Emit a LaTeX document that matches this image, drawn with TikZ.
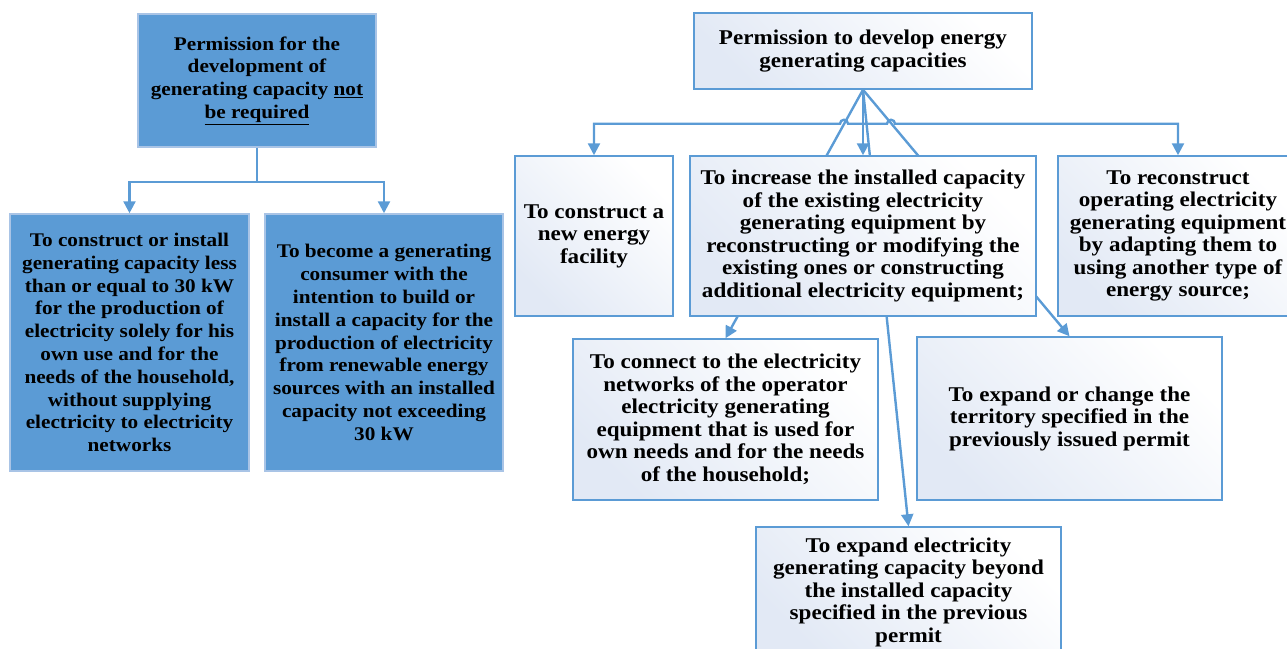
\documentclass[tikz,border=0pt]{standalone}
\usepackage{fontspec}
\setmainfont{Liberation Serif}[FakeStretch=1.1]
\usepackage{tikz}
\usetikzlibrary{arrows.meta,positioning,calc,backgrounds}
\definecolor{lineblue}{HTML}{5B9BD5}
\definecolor{fillblue}{HTML}{5B9BD5}
\definecolor{edgegrey}{HTML}{A9C4E6}
\definecolor{tint}{HTML}{E2E9F5}
\tikzstyle{solid box}=[draw=edgegrey,line width=1.5pt,fill=fillblue,inner sep=0pt,align=center,
  font=\fontsize{19.3}{22.8}\selectfont\bfseries]
\tikzstyle{pale box}=[draw=lineblue,line width=1.5pt,left color=tint,right color=white,shading angle=135,
  inner sep=0pt,align=center,font=\fontsize{21}{22.5}\selectfont\bfseries]
\tikzstyle{conn}=[draw=lineblue,line width=2.4pt,-{Triangle[length=12pt,width=12pt]}]

\begin{document}
\begin{tikzpicture}[x=1pt,y=-1pt]
    \useasboundingbox (0,0) rectangle (1287,648);
    % left part
    \node [solid box,minimum width=238pt,minimum height=133pt] (ltop) at (257,80.5)
      {Permission for the\\ development of\\ generating capacity \underline{not}\\ \underline{be required}};
    \node [solid box,minimum width=239pt,minimum height=257pt] (lone) at (129.5,342.5)
      {To construct or install\\ generating capacity less\\ than or equal to 30 kW\\ for the production of\\
       electricity solely for his\\ own use and for the\\ needs of the household,\\ without supplying\\
       electricity to electricity\\ networks};
    \node [solid box,minimum width=238pt,minimum height=257pt] (ltwo) at (384,342.5)
      {To become a generating\\ consumer with the\\ intention to build or\\ install a capacity for the\\
       production of electricity\\ from renewable energy\\ sources with an installed\\ capacity not exceeding\\ 30 kW};
    \draw [conn] (ltop.south) -- ++(0,34) -| (lone.north);
    \draw [conn] (ltop.south) -- ++(0,34) -| (ltwo.north);
    % right part
    \node [pale box,minimum width=338pt,minimum height=76pt] (top) at (863,51)
      {Permission to develop energy\\ generating capacities};
    \node [pale box,minimum width=158pt,minimum height=160pt] (build) at (594,236)
      {To construct a\\ new energy\\ facility};
    \node [pale box,minimum width=346pt,minimum height=160pt] (raise) at (863,236)
      {To increase the installed capacity\\ of the existing electricity\\ generating equipment by\\
       reconstructing or modifying the\\ existing ones or constructing\\ additional electricity equipment;};
    \node [pale box,minimum width=240pt,minimum height=160pt] (adapt) at (1178,236)
      {To reconstruct\\ operating electricity\\ generating equipment\\ by adapting them to\\
       using another type of\\ energy source;};
    \node [pale box,minimum width=305pt,minimum height=161pt] (link) at (725.5,419.5)
      {To connect to the electricity\\ networks of the operator\\ electricity generating\\
       equipment that is used for\\ own needs and for the needs\\ of the household;};
    \node [pale box,minimum width=305pt,minimum height=163pt] (area) at (1069.5,418.5)
      {To expand or change the\\ territory specified in the\\ previously issued permit};
    \node [pale box,minimum width=305pt,minimum height=130pt] (grow) at (908.5,592)
      {To expand electricity\\ generating capacity beyond\\ the installed capacity\\
       specified in the previous\\ permit};
    \begin{scope}[on background layer]
      \draw [conn] (top.south) -- (raise.north);
      \draw [conn] (top.south) -- (link.north);
      \draw [conn] (top.south) -- (area.north);
      \draw [conn] (top.south) -- (grow.north);
      \draw [draw=lineblue,line width=2.4pt] (top.south) -- ++(0,34) coordinate (hub);
      \draw [conn] (hub) -- ($(hub)+(-15,0)$) arc[start angle=0,end angle=180,radius=4pt]
        -- (build.north |- hub) -- (build.north);
      \draw [conn] (hub) -- ($(hub)+(24,0)$) arc[start angle=180,end angle=0,radius=4pt]
        -- (adapt.north |- hub) -- (adapt.north);
    \end{scope}
\end{tikzpicture}
\end{document}
